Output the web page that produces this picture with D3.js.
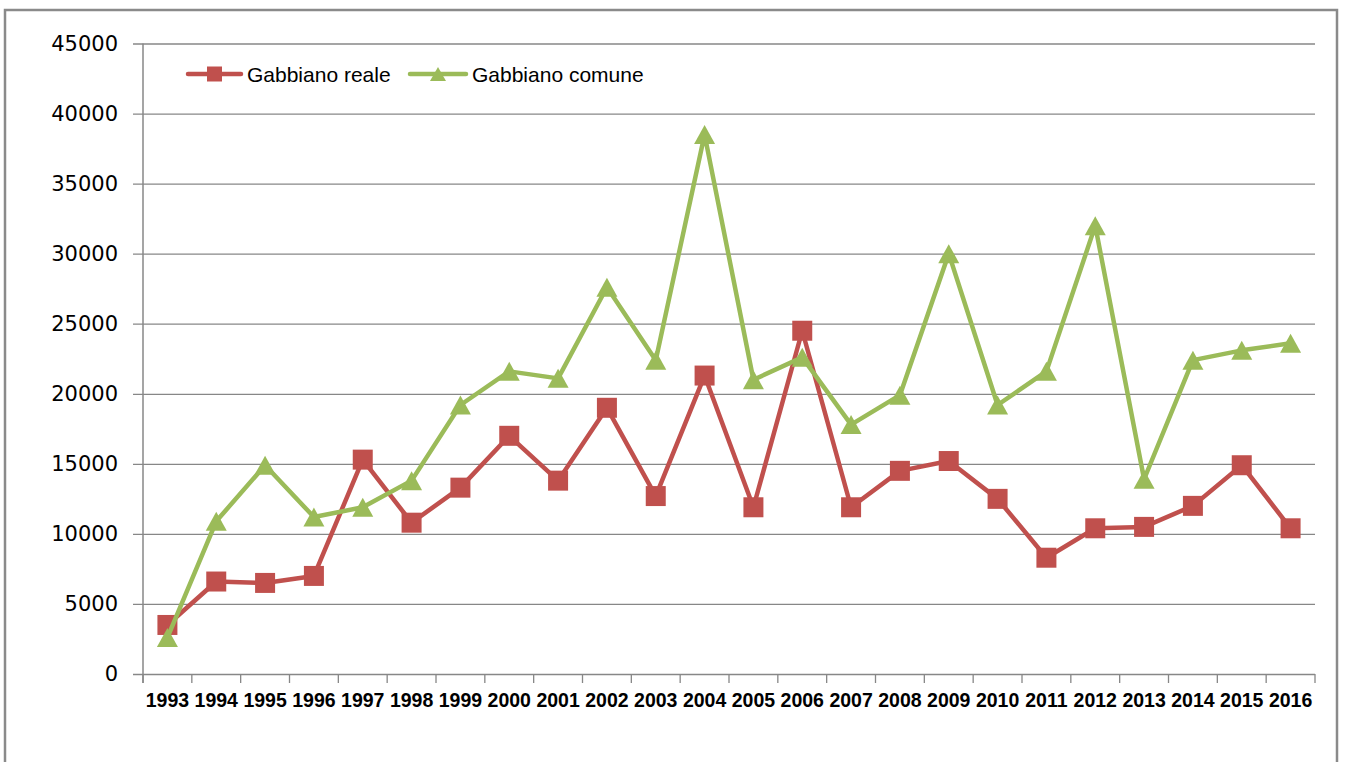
<!DOCTYPE html>
<html>
<head>
<meta charset="utf-8">
<script src="https://cdn.jsdelivr.net/npm/d3@7"></script>
<style>
  html, body { margin: 0; padding: 0; background: #fff; overflow: hidden; }
</style>
</head>
<body>
<div id="chart"></div>
<script>
// Data
const years = ["1993", "1994", "1995", "1996", "1997", "1998", "1999", "2000", "2001", "2002", "2003", "2004",
               "2005", "2006", "2007", "2008", "2009", "2010", "2011", "2012", "2013", "2014", "2015", "2016"];
const reale = [3500, 6600, 6500, 7000, 15300, 10800, 13300, 17000, 13800, 19000, 12700, 21300,
               11900, 24500, 11900, 14500, 15200, 12500, 8300, 10400, 10500, 12000, 14900, 10400];
const comune = [2600, 10900, 14900, 11200, 11900, 13800, 19200, 21600, 21100, 27600, 22400, 38500,
                21000, 22600, 17800, 19900, 30000, 19200, 21600, 32000, 13900, 22400, 23100, 23600];
const yTicks = [0, 5000, 10000, 15000, 20000, 25000, 30000, 35000, 40000, 45000];
const seriesNames = ["Gabbiano reale", "Gabbiano comune"];

const width = 1346;
const height = 762;
const plotLeft = 143;
const plotRight = 1315;
const plotTop = 43.5;
const plotBottom = 674;
const red = "#C0504D";
const green = "#9BBB59";
const gridColor = "#878787";

const svg = d3.select("#chart").append("svg")
    .attr("width", width)
    .attr("height", height);

// outer frame
svg.append("rect")
    .attr("x", 5).attr("y", 10)
    .attr("width", 1332).attr("height", 800)
    .attr("fill", "none")
    .attr("stroke", "#8a8a8a")
    .attr("stroke-width", 2.5);

const x = d3.scaleBand().domain(years).range([plotLeft, plotRight]).padding(0);
const y = d3.scaleLinear().domain([0, 45000]).range([plotBottom, plotTop]);
const cx = d => x(d) + x.bandwidth() / 2;

// y axis with gridlines
const yAxis = svg.append("g")
    .attr("transform", `translate(${plotLeft - 10},0)`)
    .call(d3.axisLeft(y).tickValues(yTicks).tickFormat(d3.format("d"))
        .tickSize(-(plotRight - plotLeft + 10)).tickPadding(15));
yAxis.select(".domain").remove();
yAxis.selectAll(".tick line").attr("stroke", gridColor).attr("stroke-width", 1.3);
yAxis.selectAll(".tick text")
    .attr("font-family", "'DejaVu Sans', sans-serif")
    .attr("font-size", "21px")
    .attr("fill", "#000");

// vertical axis line
svg.append("line")
    .attr("x1", plotLeft).attr("x2", plotLeft)
    .attr("y1", plotTop).attr("y2", plotBottom + 9)
    .attr("stroke", gridColor).attr("stroke-width", 1.5);

// x axis tick marks between categories
const bounds = years.map(d => x(d)).concat([plotRight]);
svg.append("g").selectAll("line")
    .data(bounds)
    .join("line")
    .attr("x1", d => d).attr("x2", d => d)
    .attr("y1", plotBottom).attr("y2", plotBottom + 9)
    .attr("stroke", gridColor).attr("stroke-width", 1.3);

svg.append("g").selectAll("text")
    .data(years)
    .join("text")
    .attr("x", d => cx(d))
    .attr("y", plotBottom + 33)
    .attr("text-anchor", "middle")
    .attr("font-family", "'Liberation Sans', Arial, sans-serif")
    .attr("font-weight", "bold")
    .attr("font-size", "19.5px")
    .text(d => d);

const line = d3.line().x((d, i) => cx(years[i])).y(d => y(d));

const squarePath = s => `M${-s / 2},${-s / 2}h${s}v${s}h${-s}Z`;
const trianglePath = (w, h) => `M0,${-h / 2}L${w / 2},${h / 2}L${-w / 2},${h / 2}Z`;

// Gabbiano reale
svg.append("path")
    .datum(reale)
    .attr("d", line)
    .attr("fill", "none")
    .attr("stroke", red)
    .attr("stroke-width", 4.5)
    .attr("stroke-linejoin", "round");
svg.append("g").selectAll("path")
    .data(reale)
    .join("path")
    .attr("transform", (d, i) => `translate(${cx(years[i])},${y(d)})`)
    .attr("d", squarePath(20))
    .attr("fill", red);

// Gabbiano comune
svg.append("path")
    .datum(comune)
    .attr("d", line)
    .attr("fill", "none")
    .attr("stroke", green)
    .attr("stroke-width", 4.5)
    .attr("stroke-linejoin", "round");
svg.append("g").selectAll("path")
    .data(comune)
    .join("path")
    .attr("transform", (d, i) => `translate(${cx(years[i])},${y(d)})`)
    .attr("d", trianglePath(21, 19))
    .attr("fill", green);

// legend
const legendY = 74;
const legendItems = [
    { name: seriesNames[0], color: red, x0: 188, x1: 241, marker: squarePath(15), tx: 247 },
    { name: seriesNames[1], color: green, x0: 410, x1: 466, marker: trianglePath(16, 14), tx: 472 }
];
const legend = svg.append("g");
legendItems.forEach(it => {
    legend.append("line")
        .attr("x1", it.x0).attr("x2", it.x1)
        .attr("y1", legendY).attr("y2", legendY)
        .attr("stroke", it.color).attr("stroke-width", 4.5)
        .attr("stroke-linecap", "round");
    legend.append("path")
        .attr("transform", `translate(${(it.x0 + it.x1) / 2},${legendY})`)
        .attr("d", it.marker)
        .attr("fill", it.color);
    legend.append("text")
        .attr("x", it.tx).attr("y", legendY + 7.5)
        .attr("font-family", "'Liberation Sans', Arial, sans-serif")
        .attr("font-size", "21px")
        .text(it.name);
});
</script>
</body>
</html>
